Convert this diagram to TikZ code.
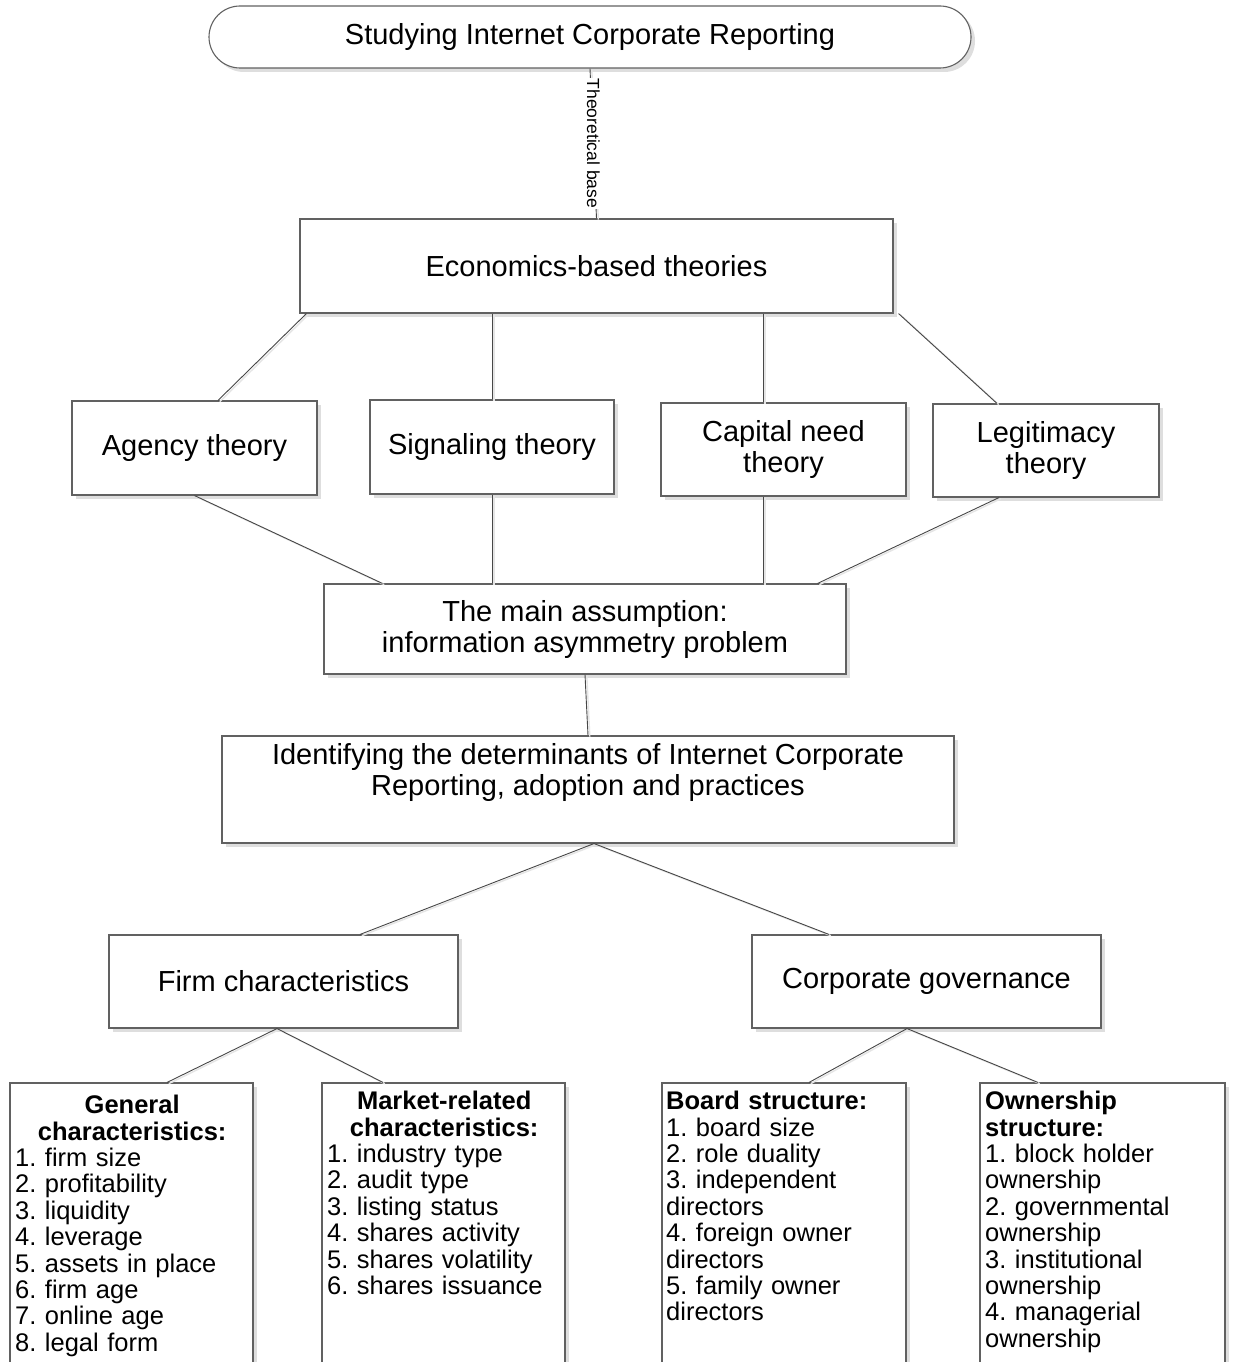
\documentclass[tikz,border=0pt]{standalone}
\usepackage{fontspec}
\setmainfont{Liberation Sans}
\usetikzlibrary{shadows}
\frenchspacing

\begin{document}
\begin{tikzpicture}[x=1pt,y=-1pt,
  box/.style={draw=black!62, line width=1.1pt, fill=white,
    drop shadow={shadow xshift=4pt, shadow yshift=-4pt, fill=black!13, opacity=1},
    inner sep=0pt, align=center, font=\fontsize{29}{31}\selectfont},
  link/.style={draw=black!72, line width=0.9pt,
    preaction={draw=black!10, line width=1.4pt, transform canvas={xshift=1.8pt,yshift=-1.2pt}}},
  listtext/.style={anchor=north west, inner sep=0pt, text width=234pt, align=left,
    font=\fontsize{25.5}{26.4}\selectfont}]

\useasboundingbox (0,0) rectangle (1232,1362);
\fill[white] (0,0) rectangle (1232,1362);
\clip (0,0) rectangle (1232,1362);

% boxes
\node[box, rounded corners=31pt, minimum width=762pt, minimum height=62pt] (title) at (590,37) {Studying Internet Corporate Reporting};
\node[box, minimum width=593pt, minimum height=94pt] (econ) at (596.5,266) {Economics-based theories};
\node[box, minimum width=245pt, minimum height=94pt] (agency) at (194.5,448) {Agency theory};
\node[box, minimum width=244pt, minimum height=94pt] (signal) at (492,447) {Signaling theory};
\node[box, minimum width=245pt, minimum height=93pt] (capital) at (783.5,449.5) {Capital need\\theory};
\node[box, minimum width=226pt, minimum height=93pt] (legit) at (1046,450.5) {Legitimacy\\theory};
\node[box, minimum width=522pt, minimum height=90pt] (assume) at (585,629) {The main assumption:\\information asymmetry problem};
\node[box, minimum width=732pt, minimum height=107pt] (ident) at (588,789.5) {Identifying the determinants of Internet Corporate\\Reporting, adoption and practices\\\strut};
\node[box, minimum width=349pt, minimum height=93pt] (firm) at (283.5,981.5) {Firm characteristics};
\node[box, minimum width=349pt, minimum height=93pt] (corp) at (926.5,981.5) {Corporate governance};

% list boxes running off the lower edge
\node[box, minimum width=243pt, minimum height=317pt] (gen) at (131.5,1241.5) {};
\node[box, minimum width=243pt, minimum height=317pt] (market) at (443.5,1241.5) {};
\node[box, minimum width=244pt, minimum height=317pt] (board) at (784,1241.5) {};
\node[box, minimum width=245pt, minimum height=317pt] (own) at (1102.5,1241.5) {};

\node[listtext] (gentext) at (15,1095) {{\centering\bfseries\strut General\\characteristics:\par}1. firm size\\2. profitability\\3. liquidity\\4. leverage\\5. assets in place\\6. firm age\\7. online age\\8. legal form};
\node[listtext] (markettext) at (327,1091) {{\centering\bfseries\strut Market-related\\characteristics:\par}1. industry type\\2. audit type\\3. listing status\\4. shares activity\\5. shares volatility\\6. shares issuance};
\node[listtext] (boardtext) at (666,1091) {\textbf{\strut Board structure:}\\1. board size\\2. role duality\\3. independent\\directors\\4. foreign owner\\directors\\5. family owner\\directors};
\node[listtext] (owntext) at (985,1091) {\textbf{\strut Ownership}\\\textbf{structure:}\\1. block holder\\ownership\\2. governmental\\ownership\\3. institutional\\ownership\\4. managerial\\ownership};

% connectors
\coordinate (capx) at ([xshift=-20.5pt]capital.north);

\draw[link] (title.south) -- node[rotate=-90, fill=white, inner sep=1pt, font=\fontsize{17.5}{20}\selectfont] (tbase) {Theoretical base} (econ.north);
\draw[link] ([xshift=7pt]econ.south west) -- ([xshift=23.5pt]agency.north);
\draw[link] (signal.north |- econ.south) -- (signal.north);
\draw[link] (capx |- econ.south) -- (capx);
\draw[link] ([xshift=5pt]econ.south east) -- ([xshift=-49pt]legit.north);
\draw[link] (agency.south) -- ([xshift=59pt]assume.north west);
\draw[link] (signal.south) -- (signal.south |- assume.north);
\draw[link] (capx |- capital.south) -- (capx |- assume.north);
\draw[link] ([xshift=-47pt]legit.south) -- ([xshift=-29pt]assume.north east);
\draw[link] (assume.south) -- (ident.north);
\draw[link] ([xshift=6pt]ident.south) -- ([xshift=76.5pt]firm.north);
\draw[link] ([xshift=6pt]ident.south) -- ([xshift=-97.5pt]corp.north);
\draw[link] ([xshift=-6.5pt]firm.south) -- ([xshift=35.5pt]gen.north);
\draw[link] ([xshift=-6.5pt]firm.south) -- ([xshift=-60.5pt]market.north);
\draw[link] ([xshift=-19.5pt]corp.south) -- ([xshift=25pt]board.north);
\draw[link] ([xshift=-19.5pt]corp.south) -- ([xshift=-64.5pt]own.north);

\end{tikzpicture}
\end{document}
